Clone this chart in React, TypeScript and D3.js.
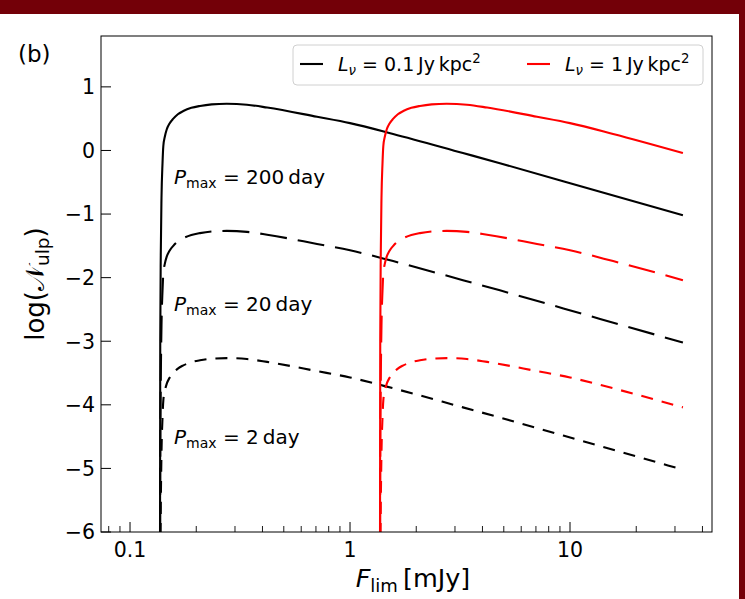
import React from 'react';
import * as d3 from 'd3';

// ---- data ----
const blackF = [0.1368, 0.1372, 0.138, 0.139, 0.1405, 0.1417, 0.144, 0.1468, 0.151, 0.1573, 0.165, 0.1747, 0.19, 0.208, 0.235, 0.275, 0.34, 0.42, 0.708, 1.0, 1.57, 3.26, 4.8, 13.7, 32.6];
const black200 = [-7, -3, -1.6, -0.75, -0.2, 0.07, 0.22, 0.33, 0.42, 0.5, 0.57, 0.62, 0.67, 0.7, 0.725, 0.735, 0.72, 0.675, 0.53, 0.43, 0.26, -0.04, -0.2, -0.65, -1.02];
const black20 = [-9, -5, -3.6, -2.75, -2.2, -1.93, -1.78, -1.67, -1.58, -1.5, -1.43, -1.38, -1.33, -1.3, -1.275, -1.265, -1.28, -1.325, -1.47, -1.57, -1.74, -2.04, -2.2, -2.65, -3.02];
const black2 = [-11, -7, -5.6, -4.75, -4.2, -3.93, -3.78, -3.67, -3.58, -3.5, -3.43, -3.38, -3.33, -3.3, -3.275, -3.265, -3.28, -3.325, -3.47, -3.57, -3.74, -4.04, -4.2, -4.65, -5.02];

const redF = [1.368, 1.372, 1.38, 1.39, 1.405, 1.417, 1.44, 1.468, 1.51, 1.573, 1.65, 1.747, 1.9, 2.08, 2.35, 2.75, 3.4, 4.2, 7.08, 10.0, 15.7, 32.6];
const red200 = [-7, -3, -1.6, -0.75, -0.2, 0.07, 0.22, 0.33, 0.42, 0.5, 0.57, 0.62, 0.67, 0.7, 0.725, 0.735, 0.72, 0.675, 0.53, 0.43, 0.26, -0.04];
const red20 = [-9, -5, -3.6, -2.75, -2.2, -1.93, -1.78, -1.67, -1.58, -1.5, -1.43, -1.38, -1.33, -1.3, -1.275, -1.265, -1.28, -1.325, -1.47, -1.57, -1.74, -2.04];
const red2 = [-11, -7, -5.6, -4.75, -4.2, -3.93, -3.78, -3.67, -3.58, -3.5, -3.43, -3.38, -3.33, -3.3, -3.275, -3.265, -3.28, -3.325, -3.47, -3.57, -3.74, -4.04];

const xMajor = [0.1, 1, 10];
const xMajorLabels = ['0.1', '1', '10'];
const yMajor = [-6, -5, -4, -3, -2, -1, 0, 1];
const yMajorLabels = ['\u22126', '\u22125', '\u22124', '\u22123', '\u22122', '\u22121', '0', '1'];
const periodLabels = ['200', '20', '2'];

const FONT = "'DejaVu Sans', sans-serif";

export default function App() {
  const W = 745, H = 599;
  const L = 101, R = 712, T = 36, B = 532;
  const x = d3.scaleLog().domain([0.0738, 44.2]).range([L, R]);
  const y = d3.scaleLinear().domain([-6, 1.8]).range([B, T]);

  const line = d3.line<[number, number]>()
    .x(d => x(d[0]))
    .y(d => y(d[1]))
    .curve(d3.curveMonotoneX);

  const zip = (xs: number[], ys: number[]) => xs.map((v, i) => [v, ys[i]] as [number, number]);

  const series = [
    { d: zip(blackF, black200), c: '#000', dash: undefined },
    { d: zip(blackF, black20), c: '#000', dash: '27,11' },
    { d: zip(blackF, black2), c: '#000', dash: '12,9' },
    { d: zip(redF, red200), c: '#ff0000', dash: undefined },
    { d: zip(redF, red20), c: '#ff0000', dash: '27,11' },
    { d: zip(redF, red2), c: '#ff0000', dash: '12,9' },
  ];

  const minor = x.ticks().filter(t => !xMajor.some(M => Math.abs(M - t) < 1e-9) && x(t) >= L && x(t) <= R);

  const labelBaselines = [184, 311, 444];
  const tickFs = 20.5;
  const annFs = 20;
  const legFs = 19;

  return (
    <svg width={W} height={H} style={{ position: 'absolute', left: 0, top: 0, display: 'block', background: '#fff' }} fontFamily={FONT}>
      <defs>
        <clipPath id="plotclip">
          <rect x={L} y={T} width={R - L} height={B - T} />
        </clipPath>
      </defs>
      <rect x={0} y={0} width={W} height={H} fill="#fff" />
      {/* dark red frame */}
      <rect x={0} y={0} width={W} height={14} fill="#730008" />
      <rect x={739} y={0} width={6} height={H} fill="#730008" />

      {/* panel tag */}
      <text x={18} y={62} fontSize={23} fill="#000">(b)</text>

      {/* curves */}
      <g clipPath="url(#plotclip)">
        {series.map((s, i) => (
          <path key={i} d={line(s.d) || ''} fill="none" stroke={s.c} strokeWidth={2.1} strokeDasharray={s.dash} />
        ))}
      </g>

      {/* annotations */}
      {periodLabels.map((p, i) => (
        <text key={p} x={174} y={labelBaselines[i]} fontSize={annFs} fill="#000">
          <tspan fontStyle="italic">P</tspan>
          <tspan fontSize={annFs * 0.7} dy={3.5}>max</tspan>
          <tspan dy={-3.5}>{` = ${p}\u2009day`}</tspan>
        </text>
      ))}

      {/* axes frame */}
      <rect x={L} y={T} width={R - L} height={B - T} fill="none" stroke="#000" strokeWidth={1} />

      {/* x ticks */}
      {xMajor.map((t, i) => (
        <g key={t}>
          <line x1={x(t)} x2={x(t)} y1={B} y2={B - 10} stroke="#000" strokeWidth={1} />
          <text x={x(t)} y={557} fontSize={tickFs} textAnchor="middle" fill="#000">{xMajorLabels[i]}</text>
        </g>
      ))}
      {minor.map(t => (
        <line key={t} x1={x(t)} x2={x(t)} y1={B} y2={B - 6} stroke="#000" strokeWidth={0.9} />
      ))}

      {/* y ticks */}
      {yMajor.map((t, i) => (
        <g key={t}>
          <line x1={L} x2={L + 10} y1={y(t)} y2={y(t)} stroke="#000" strokeWidth={1} />
          <text x={95} y={y(t)} dy="0.36em" fontSize={tickFs} textAnchor="end" fill="#000">{yMajorLabels[i]}</text>
        </g>
      ))}

      {/* x label */}
      <text x={413} y={587} fontSize={25.5} textAnchor="middle" fill="#000">
        <tspan fontStyle="italic">F</tspan>
        <tspan fontSize={18} dy={4.5}>lim</tspan>
        <tspan dy={-4.5}>{'\u2009[mJy]'}</tspan>
      </text>

      {/* y label */}
      <text transform={`translate(44,${(T + B) / 2}) rotate(-90)`} fontSize={26} textAnchor="middle" fill="#000">
        <tspan>log(</tspan>
        <tspan>{'\u{1D4A9}'}</tspan>
        <tspan fontSize={18.5} dy={4.5}>ulp</tspan>
        <tspan dy={-4.5}>)</tspan>
      </text>

      {/* legend */}
      <rect x={293} y={45} width={410} height={40} rx={4} ry={4} fill="#fff" fillOpacity={0.8} stroke="#d0d0d0" strokeWidth={1} />
      <line x1={300} x2={323} y1={64} y2={64} stroke="#000" strokeWidth={2.1} />
      <text x={338} y={71} fontSize={legFs} fill="#000">
        <tspan fontStyle="italic">L</tspan>
        <tspan fontStyle="italic" fontSize={legFs * 0.7} dy={3.5}>{'\u03BD'}</tspan>
        <tspan dy={-3.5}>{' = 0.1\u2009Jy\u2009kpc'}</tspan>
        <tspan fontSize={legFs * 0.7} dy={-8}>2</tspan>
      </text>
      <line x1={527} x2={550} y1={64} y2={64} stroke="#ff0000" strokeWidth={2.1} />
      <text x={565} y={71} fontSize={legFs} fill="#000">
        <tspan fontStyle="italic">L</tspan>
        <tspan fontStyle="italic" fontSize={legFs * 0.7} dy={3.5}>{'\u03BD'}</tspan>
        <tspan dy={-3.5}>{' = 1\u2009Jy\u2009kpc'}</tspan>
        <tspan fontSize={legFs * 0.7} dy={-8}>2</tspan>
      </text>
    </svg>
  );
}
